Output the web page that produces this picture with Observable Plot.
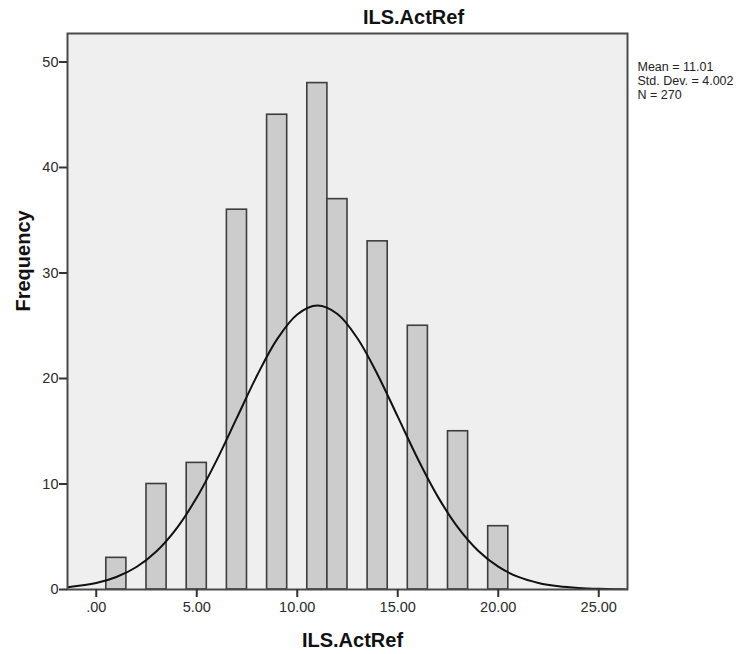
<!DOCTYPE html>
<html>
<head>
<meta charset="utf-8">
<script src="https://cdn.jsdelivr.net/npm/d3@7"></script>
<script src="https://cdn.jsdelivr.net/npm/@observablehq/plot@0.6"></script>
<style>
  html, body { margin: 0; padding: 0; background: #fff; }
  #chart svg { display: block; }
</style>
</head>
<body>
<div id="chart"></div>
<script>
// ---- data ----
const title = "ILS.ActRef";
const xLabel = "ILS.ActRef";
const yLabel = "Frequency";
const statsLines = ["Mean = 11.01", "Std. Dev. = 4.002", "N = 270"];

const binCenters = [1, 3, 5, 7, 9, 11, 12, 14, 16, 18, 20];
const counts     = [3, 10, 12, 36, 45, 48, 37, 33, 25, 15, 6];

// fitted normal curve
const curveX = [-1.43, 0, 1, 2, 3, 4, 5, 6, 7, 8, 9, 10, 11, 12, 13, 14, 15, 16, 17, 18, 19, 20, 21, 22, 23, 24, 25, 26, 26.43];
const curveY = [0.22, 0.61, 1.18, 2.13, 3.63, 5.8, 8.71, 12.29, 16.29, 20.28, 23.73, 26.07, 26.91, 26.11, 23.79, 20.36, 16.38, 12.37, 8.78, 5.86, 3.67, 2.16, 1.19, 0.62, 0.3, 0.14, 0.06, 0.02, 0.01];

const xTicks = [0, 5, 10, 15, 20, 25];
const yTicks = [0, 10, 20, 30, 40, 50];

// ---- build ----
const bars = binCenters.map((c, i) => ({x1: c - 0.5, x2: c + 0.5, y: counts[i]}));
const curve = curveX.map((x, i) => ({x, y: curveY[i]}));
const fmtX = d => d === 0 ? ".00" : d.toFixed(2);

const chart = Plot.plot({
  width: 755,
  height: 654,
  marginTop: 33,
  marginRight: 128,
  marginBottom: 65,
  marginLeft: 67,
  style: {fontFamily: "'Liberation Sans', Arial, sans-serif", fontSize: "14px", color: "#2a2a2a", background: "#fff"},
  x: {domain: [-1.43, 26.43]},
  y: {domain: [0, 52.7]},
  marks: [
    Plot.frame({fill: "#efefef", stroke: "none"}),
    Plot.rectY(bars, {x1: "x1", x2: "x2", y: "y", fill: "#cccccc", stroke: "#3d3d3d", strokeWidth: 1.6, inset: 0}),
    Plot.line(curve, {x: "x", y: "y", stroke: "#111", strokeWidth: 2, curve: "catmull-rom", clip: "frame"}),
    Plot.frame({stroke: "#4a4a4a", strokeWidth: 2}),
    Plot.axisX({ticks: xTicks, tickFormat: fmtX, tickSize: 8, tickPadding: 4, label: null, stroke: "#333", strokeWidth: 2, fontSize: 14.5}),
    Plot.axisY({ticks: yTicks, tickFormat: d => String(d), tickSize: 8, tickPadding: 1, label: null, stroke: "#333", strokeWidth: 2, fontSize: 14.5}),
    Plot.text([title], {frameAnchor: "top", dx: 66, dy: -10, lineAnchor: "bottom", fontSize: 20, fontWeight: "bold", fill: "#111"}),
    Plot.text([xLabel], {frameAnchor: "bottom", dx: 5, dy: 57, lineAnchor: "bottom", fontSize: 20, fontWeight: "bold", fill: "#111"}),
    Plot.text([yLabel], {frameAnchor: "left", dx: -44, rotate: -90, fontSize: 20, fontWeight: "bold", fill: "#111"}),
    Plot.text([statsLines.join("\n")], {frameAnchor: "top-right", dx: 10, dy: 28, textAnchor: "start", lineAnchor: "top", fontSize: 12.5, lineHeight: 1.12, fill: "#222"})
  ]
});
document.getElementById("chart").appendChild(chart);
</script>
</body>
</html>
